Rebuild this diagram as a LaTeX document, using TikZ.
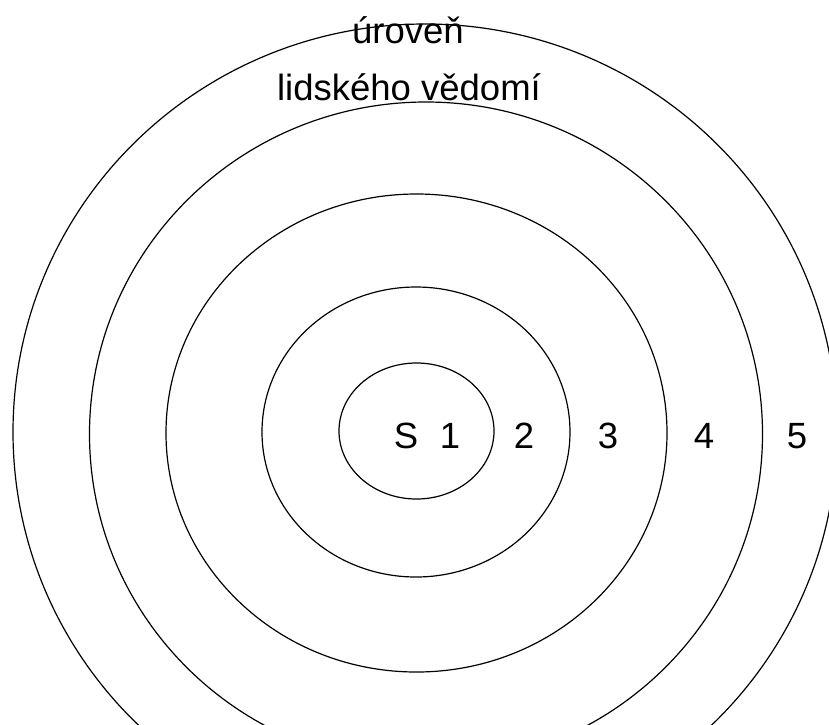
\documentclass[tikz,border=0pt]{standalone}
\usepackage{fontspec}
\setmainfont{Liberation Sans}
\begin{document}
\begin{tikzpicture}[x=1pt,y=-1pt,
  ring/.style={draw=black,line width=1.2pt},
  lbl/.style={anchor=base,inner sep=0pt,font=\fontsize{36.5}{44}\selectfont}]
\useasboundingbox (0,0) rectangle (829,724);
\clip (0,0) rectangle (829,724);
\fill[white] (0,0) rectangle (829,724);
\draw[ring] (416.5,431) ellipse [x radius=77.5pt, y radius=68pt];
\draw[ring] (416,432) ellipse [x radius=154pt, y radius=145pt];
\draw[ring] (416.5,433) ellipse [x radius=250.5pt, y radius=239pt];
\draw[ring] (426,434) ellipse [x radius=336.5pt, y radius=332pt];
\draw[ring] (425,432) ellipse [x radius=412pt, y radius=408pt];
\node[lbl] (t1) at (408,43) {úroveň};
\node[lbl] (t2) at (409,100) {lidského vědomí};
\node[lbl] (s) at (406,448) {S};
\node[lbl] (n1) at (450,448) {1};
\node[lbl] (n2) at (524,448) {2};
\node[lbl] (n3) at (608,448) {3};
\node[lbl] (n4) at (704,448) {4};
\node[lbl] (n5) at (797,448) {5};
\end{tikzpicture}
\end{document}
